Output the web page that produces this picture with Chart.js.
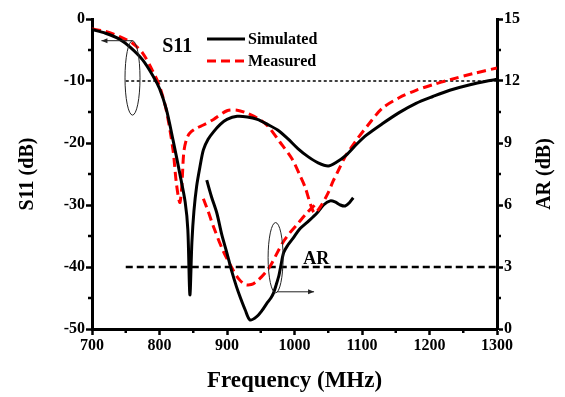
<!DOCTYPE html>
<html>
<head>
<meta charset="utf-8">
<script src="https://cdn.jsdelivr.net/npm/chart.js@4.4.0/dist/chart.umd.min.js"></script>
<style>
  html, body { margin: 0; padding: 0; background: #fff; }
  #wrap { width: 565px; height: 397px; }
</style>
</head>
<body>
<div id="wrap"><canvas id="chart" width="565" height="397"></canvas></div>
<script>
const FONT = "'Liberation Serif', 'Times New Roman', serif";

// S11, simulated
const simS11Freq = [700, 720, 740, 756, 775, 791, 800, 810, 820, 830, 838, 842, 845, 848, 851, 855, 860, 865, 872, 880, 890, 900, 915, 930, 945, 960, 975, 990, 1005, 1020, 1035, 1050, 1062, 1077, 1092, 1107, 1130, 1155, 1180, 1205, 1230, 1260, 1300];
const simS11 = [-1.7, -2.3, -3.2, -4.5, -6.6, -9.3, -11.2, -14.5, -19.5, -24.9, -29.5, -34, -44.5, -36, -31, -27, -23.8, -21.1, -19.4, -18.2, -17, -16.2, -15.7, -15.8, -16.2, -17.0, -17.9, -19.3, -20.9, -22.2, -23.2, -23.7, -23.1, -21.9, -20.2, -18.7, -16.9, -15.1, -13.6, -12.5, -11.5, -10.6, -9.7];

// S11, measured
const measS11Freq = [700, 720, 740, 760, 775, 790, 800, 810, 820, 825, 830, 833, 836, 840, 845, 855, 865, 880, 900, 915, 930, 945, 960, 978, 996, 1008, 1016, 1024, 1030, 1040, 1050, 1057, 1066, 1075, 1085, 1094, 1109, 1130, 1155, 1180, 1205, 1230, 1265, 1300];
const measS11 = [-1.6, -2.0, -2.8, -3.9, -5.5, -8.4, -10.8, -14.7, -21.1, -26.5, -29.6, -27, -21.5, -19.4, -18.4, -17.6, -17.1, -16.2, -14.8, -14.7, -15.2, -16, -17.2, -19.8, -22.5, -25.2, -27.2, -30, -31.3, -30, -28, -26.2, -24.2, -22.2, -20.6, -19.2, -17.1, -14.4, -12.7, -11.5, -10.6, -9.8, -8.8, -7.9];

// AR, simulated
const simARFreq = [870, 877, 885, 892, 900, 907, 914, 920, 927, 934, 944, 952, 959, 965, 969, 973, 977, 980, 984, 990, 998, 1008, 1020, 1033, 1043, 1053, 1060, 1068, 1075, 1081, 1087];
const simAR = [7.2, 6.4, 5.6, 4.6, 3.66, 2.8, 2.05, 1.5, 0.92, 0.44, 0.6, 0.9, 1.24, 1.5, 1.75, 2.15, 2.6, 3.1, 3.7, 4.05, 4.4, 4.85, 5.2, 5.6, 6.0, 6.2, 6.15, 6.0, 5.95, 6.1, 6.35];

// AR, measured
const measARFreq = [865, 872, 880, 894, 909, 918, 927, 936, 944, 956, 965, 973, 983, 993, 1005, 1018, 1033];
const measAR = [6.3, 5.7, 4.95, 3.8, 2.85, 2.4, 2.15, 2.15, 2.3, 2.7, 3.1, 3.6, 4.2, 4.65, 5.1, 5.6, 6.1];

// -10 dB and 3 dB criteria
const limitFreq = [750, 1300];
const s11Limit = [-10, -10];
const arLimit = [3, 3];

const seriesNames = ['Simulated', 'Measured'];

const toPoints = (xs, ys) => xs.map((x, i) => ({ x: x, y: ys[i] }));

const RED = 'rgb(255,0,0)';

// short minor ticks halfway between the labelled ones
const minorTicks = {
  id: 'minorTicks',
  afterDraw(chart) {
    const ctx = chart.ctx;
    const { x, y, y1 } = chart.scales;
    const mids = s => {
      const out = [];
      for (let i = 0; i < s.ticks.length - 1; i++) out.push((s.ticks[i].value + s.ticks[i + 1].value) / 2);
      return out;
    };
    ctx.save();
    ctx.strokeStyle = '#000';
    ctx.lineWidth = 2.5;
    ctx.beginPath();
    mids(x).forEach(v => { const p = x.getPixelForValue(v); ctx.moveTo(p, x.top); ctx.lineTo(p, x.top + 4); });
    mids(y).forEach(v => { const p = y.getPixelForValue(v); ctx.moveTo(y.right, p); ctx.lineTo(y.right - 4, p); });
    mids(y1).forEach(v => { const p = y1.getPixelForValue(v); ctx.moveTo(y1.left, p); ctx.lineTo(y1.left + 4, p); });
    ctx.stroke();
    ctx.restore();
  }
};

// legend, curve labels, ellipses with arrows, right axis title
const overlay = {
  id: 'overlay',
  afterDraw(chart) {
    const ctx = chart.ctx;
    const { x, y, y1 } = chart.scales;
    ctx.save();

    // legend
    const ds = chart.data.datasets;
    [0, 1].forEach(i => {
      const ly = 39 + i * 22;
      ctx.beginPath();
      ctx.strokeStyle = ds[i].borderColor;
      ctx.lineWidth = ds[i].borderWidth;
      ctx.setLineDash(ds[i].borderDash || []);
      ctx.moveTo(207, ly);
      ctx.lineTo(245, ly);
      ctx.stroke();
      ctx.setLineDash([]);
      ctx.fillStyle = '#000';
      ctx.font = 'bold 16px ' + FONT;
      ctx.textAlign = 'left';
      ctx.textBaseline = 'middle';
      ctx.fillText(seriesNames[i], 248, ly + 1);
    });

    const ellipse = (cx, cy, rx, ry) => {
      ctx.beginPath();
      ctx.ellipse(cx, cy, rx, ry, 0, 0, Math.PI * 2);
      ctx.stroke();
    };
    const arrow = (x0, yy, x1) => {
      const dir = Math.sign(x1 - x0);
      ctx.beginPath();
      ctx.moveTo(x0, yy);
      ctx.lineTo(x1, yy);
      ctx.stroke();
      ctx.beginPath();
      ctx.moveTo(x1, yy);
      ctx.lineTo(x1 - dir * 6, yy - 2.5);
      ctx.lineTo(x1 - dir * 6, yy + 2.5);
      ctx.closePath();
      ctx.fill();
    };

    ctx.strokeStyle = '#222';
    ctx.fillStyle = '#222';
    ctx.lineWidth = 1;

    // S11 marker
    const sx = x.getPixelForValue(760);
    const sTop = y.getPixelForValue(-3.5), sBot = y.getPixelForValue(-15.5);
    ellipse(sx, (sTop + sBot) / 2, 7.5, (sBot - sTop) / 2);
    arrow(sx, sTop, x.getPixelForValue(714));

    // AR marker
    const ax = x.getPixelForValue(972);
    const aTop = y1.getPixelForValue(5.15), aBot = y1.getPixelForValue(1.75);
    ellipse(ax, (aTop + aBot) / 2, 7.5, (aBot - aTop) / 2);
    arrow(x.getPixelForValue(974), y1.getPixelForValue(1.8), x.getPixelForValue(1029));

    ctx.fillStyle = '#000';
    ctx.textAlign = 'left';
    ctx.textBaseline = 'middle';
    ctx.font = 'bold 20px ' + FONT;
    ctx.fillText('S11', x.getPixelForValue(804), y.getPixelForValue(-4.5));
    ctx.font = 'bold 18px ' + FONT;
    ctx.fillText('AR', x.getPixelForValue(1013), y1.getPixelForValue(3.35));

    // right axis title, reading bottom to top
    ctx.font = 'bold 20px ' + FONT;
    ctx.textAlign = 'center';
    ctx.translate(545, (chart.chartArea.top + chart.chartArea.bottom) / 2);
    ctx.rotate(-Math.PI / 2);
    ctx.fillText('AR (dB)', 0, 0);
    ctx.restore();
  }
};

const tickFont = { family: FONT, size: 16, weight: 'bold' };
const axisGrid = { drawOnChartArea: false, drawTicks: true, tickLength: 6, tickWidth: 2.5, tickColor: '#000' };
const axisBorder = { display: true, width: 3, color: '#000' };
const curve = { pointRadius: 0, tension: 0.3, fill: false, borderWidth: 3 };

new Chart(document.getElementById('chart').getContext('2d'), {
  type: 'line',
  data: {
    datasets: [
      { ...curve, label: 'S11 simulated', data: toPoints(simS11Freq, simS11), yAxisID: 'y', borderColor: '#000' },
      { ...curve, label: 'S11 measured', data: toPoints(measS11Freq, measS11), yAxisID: 'y', borderColor: RED, borderDash: [9, 5] },
      { ...curve, label: 'AR simulated', data: toPoints(simARFreq, simAR), yAxisID: 'y1', borderColor: '#000' },
      { ...curve, label: 'AR measured', data: toPoints(measARFreq, measAR), yAxisID: 'y1', borderColor: RED, borderDash: [9, 5] },
      { label: '-10 dB', data: toPoints(limitFreq, s11Limit), yAxisID: 'y', borderColor: '#000', borderWidth: 1.5, borderDash: [3, 2.5], pointRadius: 0, fill: false },
      { label: '3 dB', data: toPoints(limitFreq, arLimit), yAxisID: 'y1', borderColor: '#000', borderWidth: 2.5, borderDash: [7, 4], pointRadius: 0, fill: false }
    ]
  },
  options: {
    responsive: false,
    animation: false,
    layout: { padding: { top: 19, left: 0, right: 0, bottom: 0 } },
    plugins: { legend: { display: false }, tooltip: { enabled: false } },
    scales: {
      x: {
        type: 'linear', min: 700, max: 1300,
        ticks: { stepSize: 100, font: tickFont, color: '#000', padding: 1, maxRotation: 0, callback: v => String(v) },
        grid: axisGrid, border: axisBorder,
        title: { display: true, text: 'Frequency (MHz)', color: '#000', font: { family: FONT, size: 23, weight: 'bold' }, padding: { top: 0, bottom: 2 } },
        afterFit: s => { s.height = 68; }
      },
      y: {
        position: 'left', min: -50, max: 0,
        ticks: { stepSize: 10, font: tickFont, color: '#000', padding: 1, callback: v => String(v) },
        grid: axisGrid, border: axisBorder,
        title: { display: true, text: 'S11 (dB)', color: '#000', font: { family: FONT, size: 20, weight: 'bold' }, padding: { top: 16, bottom: 0 } },
        afterFit: s => { s.width = 92; }
      },
      y1: {
        position: 'right', min: 0, max: 15,
        ticks: { stepSize: 3, font: tickFont, color: '#000', padding: 1, callback: v => String(v) },
        grid: axisGrid, border: axisBorder,
        title: { display: false },
        afterFit: s => { s.width = 68; }
      }
    }
  },
  plugins: [minorTicks, overlay]
});
</script>
</body>
</html>
